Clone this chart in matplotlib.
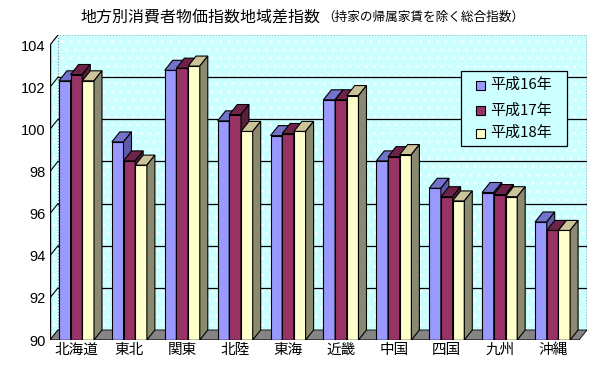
import numpy as np
import matplotlib
matplotlib.use('Agg')
import matplotlib.pyplot as plt
from matplotlib.patches import Polygon, Rectangle

plt.rcParams['font.family'] = ['Noto Sans CJK JP', 'DejaVu Sans']
plt.rcParams['hatch.linewidth'] = 0.6

regions = ['北海道', '東北', '関東', '北陸', '東海', '近畿', '中国', '四国', '九州', '沖縄']
series = ['平成16年', '平成17年', '平成18年']
h16 = [102.3, 99.4, 102.8, 100.4, 99.7, 101.4, 98.5, 97.2, 97.0, 95.6]
h17 = [102.6, 98.5, 102.9, 100.7, 99.8, 101.4, 98.7, 96.8, 96.9, 95.2]
h18 = [102.3, 98.3, 103.0, 99.9, 99.9, 101.6, 98.8, 96.6, 96.8, 95.2]
yticks = [90, 92, 94, 96, 98, 100, 102, 104]

front = ['#9999ff', '#993366', '#ffffcc']
top = ['#7373cc', '#6e2448', '#ccc499']
side = ['#5c5cab', '#55203a', '#8a8a70']

ymin, ymax = 90, 104
dx, dy = 0.151, 0.475      # depth offset (category units, value units)
bw = 0.221

fig = plt.figure(figsize=(6.05, 3.71), dpi=100)
ax = fig.add_axes([50 / 605, 31 / 371, 537 / 605, 305 / 371])
ax.set_xlim(0, len(regions) + dx)
ax.set_ylim(ymin, ymax + dy)
n = len(regions)

# walls and floor
wall_kw = dict(facecolor='#ccffff', edgecolor='white', hatch='..', lw=0, zorder=0)
ax.add_patch(Polygon([(dx, ymin + dy), (n + dx, ymin + dy), (n + dx, ymax + dy), (dx, ymax + dy)], **wall_kw))
ax.add_patch(Polygon([(0, ymin), (dx, ymin + dy), (dx, ymax + dy), (0, ymax)], **wall_kw))
ax.plot([0, dx, n + dx, n + dx], [ymax, ymax + dy, ymax + dy, ymin + dy], color='#808080', lw=0.8, ls=':', zorder=1)
ax.plot([dx, dx], [ymin + dy, ymax + dy], color='#808080', lw=0.8, ls=':', zorder=1)
for v in yticks[1:-1]:
    ax.plot([dx, n + dx], [v + dy, v + dy], color='black', lw=0.9, zorder=1)
for v in yticks:
    ax.plot([0, dx], [v, v + dy], color='black', lw=0.8, zorder=1)
ax.add_patch(Polygon([(0, ymin), (n, ymin), (n + dx, ymin + dy), (dx, ymin + dy)],
                     facecolor='#858585', edgecolor='black', lw=0.6, zorder=1))

# 3D bars
data = [h16, h17, h18]
z = 2
for i in range(n):
    c = i + 0.5
    for k, vals in enumerate(data):
        v = vals[i]
        x0 = c + (k - 1) * bw - bw / 2
        x1 = x0 + bw
        ax.bar(x0, v - ymin, width=bw, bottom=ymin, align='edge', color=front[k],
               edgecolor='black', lw=0.8, zorder=z)
        ax.add_patch(Polygon([(x0, v), (x1, v), (x1 + dx, v + dy), (x0 + dx, v + dy)],
                             facecolor=top[k], edgecolor='black', lw=0.8, zorder=z))
        ax.add_patch(Polygon([(x1, ymin), (x1, v), (x1 + dx, v + dy), (x1 + dx, ymin + dy)],
                             facecolor=side[k], edgecolor='black', lw=0.8, zorder=z))
        z += 1

ax.plot([0, n], [ymin, ymin], color='black', lw=1, zorder=z)
ax.plot([0, 0], [ymin, ymax], color='black', lw=1, zorder=z)

for s in ax.spines.values():
    s.set_visible(False)
ax.set_yticks(yticks)
ax.set_yticklabels([str(t) for t in yticks], family='Liberation Sans', fontsize=10.5)
ax.set_xticks(np.arange(n) + 0.5)
ax.set_xticklabels(regions, fontsize=10.5)
ax.tick_params(axis='y', length=0, pad=3)
ax.tick_params(axis='x', length=0, pad=2)

# title
fig.text(80 / 605, 1 - 17 / 371, '地方別消費者物価指数地域差指数', fontsize=11.5, va='center', ha='left')
fig.text(322 / 605, 1 - 17 / 371, '（持家の帰属家賃を除く総合指数）', fontsize=9.1, va='center', ha='left')

# legend box
W, H = 605, 371
fig.patches.append(Rectangle((461 / W, 1 - 146 / H), 106 / W, 75 / H, transform=fig.transFigure,
                             facecolor='#ccffff', edgecolor='black', lw=0.9, zorder=50))
for k, name in enumerate(series):
    yc = [85, 110.5, 133][k]
    fig.patches.append(Rectangle((476 / W, 1 - (yc + 4.5) / H), 9 / W, 9 / H, transform=fig.transFigure,
                                 facecolor=front[k], edgecolor='black', lw=0.8, zorder=51))
    fig.text(490 / W, 1 - yc / H, name, fontsize=10.8, va='center', ha='left', zorder=52)

fig.savefig('out.png', dpi=100)
